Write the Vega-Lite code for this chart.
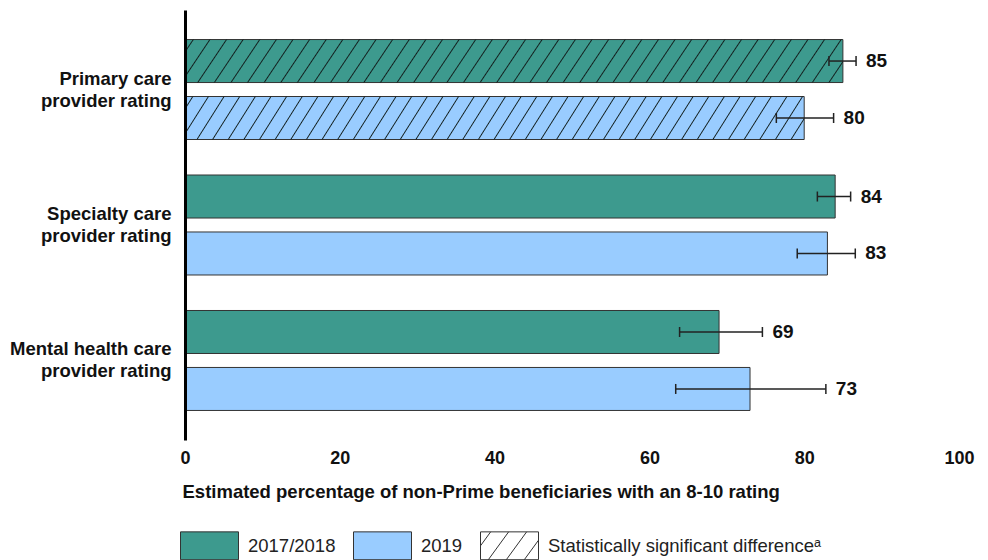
{
  "$schema": "https://vega.github.io/schema/vega-lite/v6.json",
  "width": 774,
  "height": 430,
  "autosize": {"type": "none"},
  "padding": {"left": 185, "top": 10, "right": 29, "bottom": 120},
  "background": "white",
  "config": {"view": {"stroke": null}, "font": "Liberation Sans"},
  "data": {
    "values": [
      {"measure": "Primary care provider rating", "period": "2017/2018", "value": 85, "lo": 83.2, "hi": 86.7, "sig": true},
      {"measure": "Primary care provider rating", "period": "2019", "value": 80, "lo": 76.4, "hi": 83.8, "sig": true},
      {"measure": "Specialty care provider rating", "period": "2017/2018", "value": 84, "lo": 81.7, "hi": 86.0, "sig": false},
      {"measure": "Specialty care provider rating", "period": "2019", "value": 83, "lo": 79.1, "hi": 86.6, "sig": false},
      {"measure": "Mental health care provider rating", "period": "2017/2018", "value": 69, "lo": 63.9, "hi": 74.6, "sig": false},
      {"measure": "Mental health care provider rating", "period": "2019", "value": 73, "lo": 63.4, "hi": 82.8, "sig": false}
    ]
  },
  "encoding": {
    "y": {
      "field": "measure",
      "type": "nominal",
      "sort": ["Primary care provider rating", "Specialty care provider rating", "Mental health care provider rating"],
      "scale": {"paddingInner": 0.262, "paddingOuter": 0.218},
      "axis": {
        "title": null,
        "domain": true,
        "domainColor": "#000000",
        "domainWidth": 3,
        "ticks": false,
        "grid": false,
        "labelExpr": "[replace(datum.value, ' provider rating', ''), 'provider rating']",
        "labelFontSize": 18.5,
        "labelFontWeight": "bold",
        "labelColor": "#111111",
        "labelPadding": 14,
        "labelLineHeight": 22,
        "labelOffset": -11,
        "labelLimit": 220,
        "zindex": 1
      }
    },
    "yOffset": {
      "field": "period",
      "type": "nominal",
      "sort": ["2017/2018", "2019"],
      "scale": {"paddingInner": 0.245, "paddingOuter": 0}
    }
  },
  "layer": [
    {
      "mark": {"type": "bar", "stroke": "#333333", "strokeWidth": 1},
      "encoding": {
        "x": {
          "field": "value",
          "type": "quantitative",
          "scale": {"domain": [0, 100], "nice": false, "zero": true},
          "axis": {
            "orient": "bottom",
            "values": [0, 20, 40, 60, 80, 100],
            "domain": false,
            "ticks": false,
            "grid": false,
            "labelFlush": false,
            "labelOverlap": false,
            "labelFontSize": 18,
            "labelFontWeight": "bold",
            "labelColor": "#111111",
            "labelPadding": 9,
            "title": "Estimated percentage of non-Prime beneficiaries with an 8-10 rating",
            "titleFontSize": 18.5,
            "titleFontWeight": "bold",
            "titleColor": "#111111",
            "titleAnchor": "start",
            "titleAlign": "left",
            "titleBaseline": "alphabetic",
            "titleX": -3,
            "titleY": 57
          }
        },
        "fill": {
          "field": "period",
          "type": "nominal",
          "scale": {
            "domain": ["2017/2018", "2019", "Statistically significant differenceᵃ"],
            "range": ["#3d9a8e", "#99ccff", "#ffffff"]
          },
          "legend": {
            "title": null,
            "orient": "none",
            "direction": "horizontal",
            "legendX": -5,
            "legendY": 506,
            "symbolType": "M-1,-0.48H1V0.48H-1Z",
            "symbolSize": 3364,
            "symbolStrokeColor": "#333333",
            "symbolStrokeWidth": 1,
            "symbolOpacity": 1,
            "labelFontSize": 18.5,
            "labelColor": "#222222",
            "labelOffset": 9,
            "labelLimit": 450,
            "columnPadding": 15,
            "encode": {
              "symbols": {
                "update": {
                  "shape": {"signal": "datum.index === 2 ? 'M-1,-0.48H1V0.48H-1Z M-1,0L-0.65,-0.48 M-0.73,0.48L-0.03,-0.48 M-0.11,0.48L0.59,-0.48 M0.51,0.48L1,-0.192' : 'M-1,-0.48H1V0.48H-1Z'"}
                }
              }
            }
          }
        }
      }
    },
    {
      "transform": [{"filter": "datum.sig"}],
      "mark": {
        "type": "bar",
        "stroke": null,
        "fill": {
          "gradient": "linear",
          "x1": 0, "y1": 0, "x2": 1.05, "y2": 0.046,
          "stops": [
            {"offset": 0.0103, "color": "rgba(19,32,31,0)"}, {"offset": 0.012, "color": "#13201f"}, {"offset": 0.0137, "color": "rgba(19,32,31,0)"},
            {"offset": 0.0343, "color": "rgba(19,32,31,0)"}, {"offset": 0.036, "color": "#13201f"}, {"offset": 0.0377, "color": "rgba(19,32,31,0)"},
            {"offset": 0.0583, "color": "rgba(19,32,31,0)"}, {"offset": 0.060, "color": "#13201f"}, {"offset": 0.0617, "color": "rgba(19,32,31,0)"},
            {"offset": 0.0823, "color": "rgba(19,32,31,0)"}, {"offset": 0.084, "color": "#13201f"}, {"offset": 0.0857, "color": "rgba(19,32,31,0)"},
            {"offset": 0.1063, "color": "rgba(19,32,31,0)"}, {"offset": 0.108, "color": "#13201f"}, {"offset": 0.1097, "color": "rgba(19,32,31,0)"},
            {"offset": 0.1303, "color": "rgba(19,32,31,0)"}, {"offset": 0.132, "color": "#13201f"}, {"offset": 0.1337, "color": "rgba(19,32,31,0)"},
            {"offset": 0.1543, "color": "rgba(19,32,31,0)"}, {"offset": 0.156, "color": "#13201f"}, {"offset": 0.1577, "color": "rgba(19,32,31,0)"},
            {"offset": 0.1783, "color": "rgba(19,32,31,0)"}, {"offset": 0.180, "color": "#13201f"}, {"offset": 0.1817, "color": "rgba(19,32,31,0)"},
            {"offset": 0.2023, "color": "rgba(19,32,31,0)"}, {"offset": 0.204, "color": "#13201f"}, {"offset": 0.2057, "color": "rgba(19,32,31,0)"},
            {"offset": 0.2263, "color": "rgba(19,32,31,0)"}, {"offset": 0.228, "color": "#13201f"}, {"offset": 0.2297, "color": "rgba(19,32,31,0)"},
            {"offset": 0.2503, "color": "rgba(19,32,31,0)"}, {"offset": 0.252, "color": "#13201f"}, {"offset": 0.2537, "color": "rgba(19,32,31,0)"},
            {"offset": 0.2743, "color": "rgba(19,32,31,0)"}, {"offset": 0.276, "color": "#13201f"}, {"offset": 0.2777, "color": "rgba(19,32,31,0)"},
            {"offset": 0.2983, "color": "rgba(19,32,31,0)"}, {"offset": 0.300, "color": "#13201f"}, {"offset": 0.3017, "color": "rgba(19,32,31,0)"},
            {"offset": 0.3223, "color": "rgba(19,32,31,0)"}, {"offset": 0.324, "color": "#13201f"}, {"offset": 0.3257, "color": "rgba(19,32,31,0)"},
            {"offset": 0.3463, "color": "rgba(19,32,31,0)"}, {"offset": 0.348, "color": "#13201f"}, {"offset": 0.3497, "color": "rgba(19,32,31,0)"},
            {"offset": 0.3703, "color": "rgba(19,32,31,0)"}, {"offset": 0.372, "color": "#13201f"}, {"offset": 0.3737, "color": "rgba(19,32,31,0)"},
            {"offset": 0.3943, "color": "rgba(19,32,31,0)"}, {"offset": 0.396, "color": "#13201f"}, {"offset": 0.3977, "color": "rgba(19,32,31,0)"},
            {"offset": 0.4183, "color": "rgba(19,32,31,0)"}, {"offset": 0.420, "color": "#13201f"}, {"offset": 0.4217, "color": "rgba(19,32,31,0)"},
            {"offset": 0.4423, "color": "rgba(19,32,31,0)"}, {"offset": 0.444, "color": "#13201f"}, {"offset": 0.4457, "color": "rgba(19,32,31,0)"},
            {"offset": 0.4663, "color": "rgba(19,32,31,0)"}, {"offset": 0.468, "color": "#13201f"}, {"offset": 0.4697, "color": "rgba(19,32,31,0)"},
            {"offset": 0.4903, "color": "rgba(19,32,31,0)"}, {"offset": 0.492, "color": "#13201f"}, {"offset": 0.4937, "color": "rgba(19,32,31,0)"},
            {"offset": 0.5143, "color": "rgba(19,32,31,0)"}, {"offset": 0.516, "color": "#13201f"}, {"offset": 0.5177, "color": "rgba(19,32,31,0)"},
            {"offset": 0.5383, "color": "rgba(19,32,31,0)"}, {"offset": 0.540, "color": "#13201f"}, {"offset": 0.5417, "color": "rgba(19,32,31,0)"},
            {"offset": 0.5623, "color": "rgba(19,32,31,0)"}, {"offset": 0.564, "color": "#13201f"}, {"offset": 0.5657, "color": "rgba(19,32,31,0)"},
            {"offset": 0.5863, "color": "rgba(19,32,31,0)"}, {"offset": 0.588, "color": "#13201f"}, {"offset": 0.5897, "color": "rgba(19,32,31,0)"},
            {"offset": 0.6103, "color": "rgba(19,32,31,0)"}, {"offset": 0.612, "color": "#13201f"}, {"offset": 0.6137, "color": "rgba(19,32,31,0)"},
            {"offset": 0.6343, "color": "rgba(19,32,31,0)"}, {"offset": 0.636, "color": "#13201f"}, {"offset": 0.6377, "color": "rgba(19,32,31,0)"},
            {"offset": 0.6583, "color": "rgba(19,32,31,0)"}, {"offset": 0.660, "color": "#13201f"}, {"offset": 0.6617, "color": "rgba(19,32,31,0)"},
            {"offset": 0.6823, "color": "rgba(19,32,31,0)"}, {"offset": 0.684, "color": "#13201f"}, {"offset": 0.6857, "color": "rgba(19,32,31,0)"},
            {"offset": 0.7063, "color": "rgba(19,32,31,0)"}, {"offset": 0.708, "color": "#13201f"}, {"offset": 0.7097, "color": "rgba(19,32,31,0)"},
            {"offset": 0.7303, "color": "rgba(19,32,31,0)"}, {"offset": 0.732, "color": "#13201f"}, {"offset": 0.7337, "color": "rgba(19,32,31,0)"},
            {"offset": 0.7543, "color": "rgba(19,32,31,0)"}, {"offset": 0.756, "color": "#13201f"}, {"offset": 0.7577, "color": "rgba(19,32,31,0)"},
            {"offset": 0.7783, "color": "rgba(19,32,31,0)"}, {"offset": 0.780, "color": "#13201f"}, {"offset": 0.7817, "color": "rgba(19,32,31,0)"},
            {"offset": 0.8023, "color": "rgba(19,32,31,0)"}, {"offset": 0.804, "color": "#13201f"}, {"offset": 0.8057, "color": "rgba(19,32,31,0)"},
            {"offset": 0.8263, "color": "rgba(19,32,31,0)"}, {"offset": 0.828, "color": "#13201f"}, {"offset": 0.8297, "color": "rgba(19,32,31,0)"},
            {"offset": 0.8503, "color": "rgba(19,32,31,0)"}, {"offset": 0.852, "color": "#13201f"}, {"offset": 0.8537, "color": "rgba(19,32,31,0)"},
            {"offset": 0.8743, "color": "rgba(19,32,31,0)"}, {"offset": 0.876, "color": "#13201f"}, {"offset": 0.8777, "color": "rgba(19,32,31,0)"},
            {"offset": 0.8983, "color": "rgba(19,32,31,0)"}, {"offset": 0.900, "color": "#13201f"}, {"offset": 0.9017, "color": "rgba(19,32,31,0)"},
            {"offset": 0.9223, "color": "rgba(19,32,31,0)"}, {"offset": 0.924, "color": "#13201f"}, {"offset": 0.9257, "color": "rgba(19,32,31,0)"},
            {"offset": 0.9463, "color": "rgba(19,32,31,0)"}, {"offset": 0.948, "color": "#13201f"}, {"offset": 0.9497, "color": "rgba(19,32,31,0)"},
            {"offset": 0.9703, "color": "rgba(19,32,31,0)"}, {"offset": 0.972, "color": "#13201f"}, {"offset": 0.9737, "color": "rgba(19,32,31,0)"},
            {"offset": 0.9943, "color": "rgba(19,32,31,0)"}, {"offset": 0.996, "color": "#13201f"}, {"offset": 0.9977, "color": "rgba(19,32,31,0)"}
          ]
        }
      },
      "encoding": {
        "x": {"field": "value", "type": "quantitative"}
      }
    },
    {
      "mark": {"type": "rule", "stroke": "#222222", "strokeWidth": 1.5},
      "encoding": {
        "x": {"field": "lo", "type": "quantitative"},
        "x2": {"field": "hi"}
      }
    },
    {
      "mark": {"type": "tick", "color": "#222222", "thickness": 1.5, "size": 10, "opacity": 1},
      "encoding": {
        "x": {"field": "lo", "type": "quantitative"}
      }
    },
    {
      "mark": {"type": "tick", "color": "#222222", "thickness": 1.5, "size": 10, "opacity": 1},
      "encoding": {
        "x": {"field": "hi", "type": "quantitative"}
      }
    },
    {
      "mark": {"type": "text", "align": "left", "baseline": "middle", "dx": 10, "fontSize": 19, "fontWeight": "bold", "color": "#111111"},
      "encoding": {
        "x": {"field": "hi", "type": "quantitative"},
        "text": {"field": "value", "type": "quantitative"}
      }
    }
  ]
}
